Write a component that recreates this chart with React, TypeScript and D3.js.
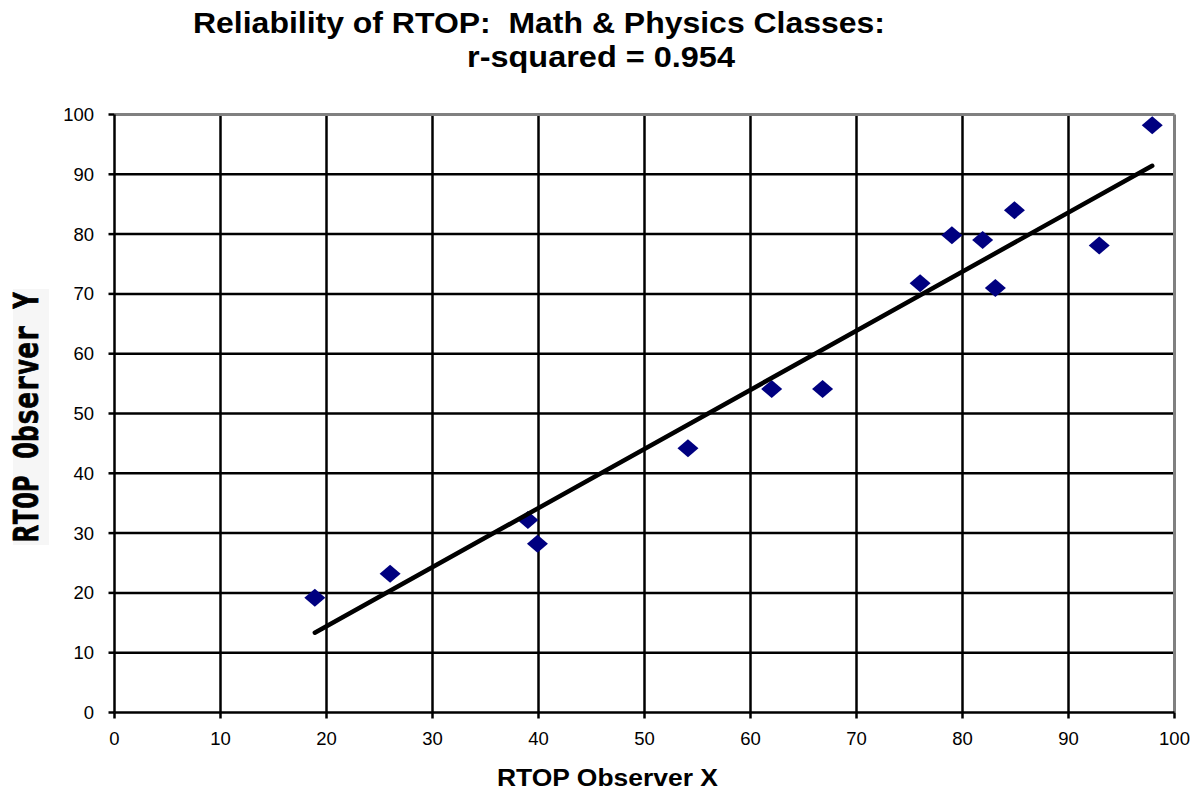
import React from "react";
import * as d3 from "d3";

const observerX = [18.9, 26.0, 39.0, 39.9, 54.1, 62.0, 66.8, 76.0, 79.0, 81.9, 84.9, 83.1, 92.9, 97.9];
const observerY = [19.2, 23.2, 32.2, 28.2, 44.2, 54.1, 54.1, 71.8, 79.8, 79.0, 84.0, 71.0, 78.1, 98.2];
const xTicks = [0, 10, 20, 30, 40, 50, 60, 70, 80, 90, 100];
const yTicks = [0, 10, 20, 30, 40, 50, 60, 70, 80, 90, 100];
const titleLine1 = "Reliability of RTOP:  Math & Physics Classes:";
const titleLine2 = "r-squared = 0.954";
const xLabel = "RTOP Observer X";
const yLabel = "RTOP Observer Y";

const W = 1198;
const H = 793;
const left = 114.5;
const right = 1174.5;
const top = 114.5;
const bottom = 712.5;

export default function App() {
  const x = d3.scaleLinear().domain([0, 100]).range([left, right]);
  const y = d3.scaleLinear().domain([0, 100]).range([bottom, top]);

  // least squares fit
  const n = observerX.length;
  const mx = d3.mean(observerX)!;
  const my = d3.mean(observerY)!;
  let sxy = 0, sxx = 0;
  for (let i = 0; i < n; i++) {
    sxy += (observerX[i] - mx) * (observerY[i] - my);
    sxx += (observerX[i] - mx) ** 2;
  }
  const slope = sxy / sxx;
  const intercept = my - slope * mx;
  const x0 = d3.min(observerX)!;
  const x1 = d3.max(observerX)!;
  const line = d3.line<number>().x((d) => x(d)).y((d) => y(slope * d + intercept));

  const diamond = (cx: number, cy: number) =>
    `M${cx},${cy - 9}L${cx + 10.5},${cy}L${cx},${cy + 9}L${cx - 10.5},${cy}Z`;

  return (
    <svg width={W} height={H} style={{ position: "absolute", left: 0, top: 0, background: "#fff" }}
      fontFamily="'Liberation Sans', Arial, sans-serif">
      <rect x={0} y={0} width={W} height={H} fill="#fff" />
      {/* title */}
      <text x={193} y={33} fontSize={29} fontWeight="bold" textLength={692} lengthAdjust="spacingAndGlyphs"
        style={{ whiteSpace: "pre" }}>
        {titleLine1}
      </text>
      <text x={467} y={67} fontSize={29} fontWeight="bold" textLength={268} lengthAdjust="spacingAndGlyphs">
        {titleLine2}
      </text>

      {/* grid */}
      {xTicks.slice(1, -1).map((t) => (
        <line key={"gx" + t} x1={x(t)} x2={x(t)} y1={top} y2={bottom} stroke="#000" strokeWidth={2.5} />
      ))}
      {yTicks.slice(1, -1).map((t) => (
        <line key={"gy" + t} x1={left} x2={right} y1={y(t)} y2={y(t)} stroke="#000" strokeWidth={2.5} />
      ))}
      {/* border */}
      <line x1={left} x2={right} y1={top} y2={top} stroke="#808080" strokeWidth={3} />
      <line x1={right} x2={right} y1={top} y2={bottom} stroke="#808080" strokeWidth={3} />
      <line x1={left} x2={left} y1={top} y2={bottom} stroke="#000" strokeWidth={2.5} />
      <line x1={left} x2={right} y1={bottom} y2={bottom} stroke="#000" strokeWidth={2.5} />

      {/* ticks */}
      {yTicks.map((t) => (
        <g key={"ty" + t}>
          <line x1={left - 6} x2={left} y1={y(t)} y2={y(t)} stroke="#000" strokeWidth={2.5} />
          <text x={94} y={y(t) + 6.5} fontSize={18.5} textAnchor="end">{t}</text>
        </g>
      ))}
      {xTicks.map((t) => (
        <g key={"tx" + t}>
          <line x1={x(t)} x2={x(t)} y1={bottom} y2={bottom + 6} stroke="#000" strokeWidth={2.5} />
          <text x={x(t)} y={745} fontSize={18.5} textAnchor="middle">{t}</text>
        </g>
      ))}

      {/* markers */}
      {observerX.map((v, i) => (
        <path key={"p" + i} d={diamond(x(v), y(observerY[i]))} fill="#000080" />
      ))}

      {/* trendline */}
      <path d={line([x0, x1]) || ""} stroke="#000" strokeWidth={4.5} strokeLinecap="round" fill="none" />

      {/* axis titles */}
      <text x={497} y={786} fontSize={24} fontWeight="bold" textLength={221} lengthAdjust="spacingAndGlyphs">
        {xLabel}
      </text>
      <g transform="translate(38,417) rotate(-90)">
        <rect x={-128} y={-25} width={256} height={36} fill="#f6f6f6" />
        <text x={0} y={0} fontSize={33} fontWeight="bold" textAnchor="middle"
          fontFamily="'DejaVu Sans Mono', monospace" textLength={250} lengthAdjust="spacingAndGlyphs"
          stroke="#000" strokeWidth={0.8}>
          {yLabel}
        </text>
      </g>
    </svg>
  );
}
